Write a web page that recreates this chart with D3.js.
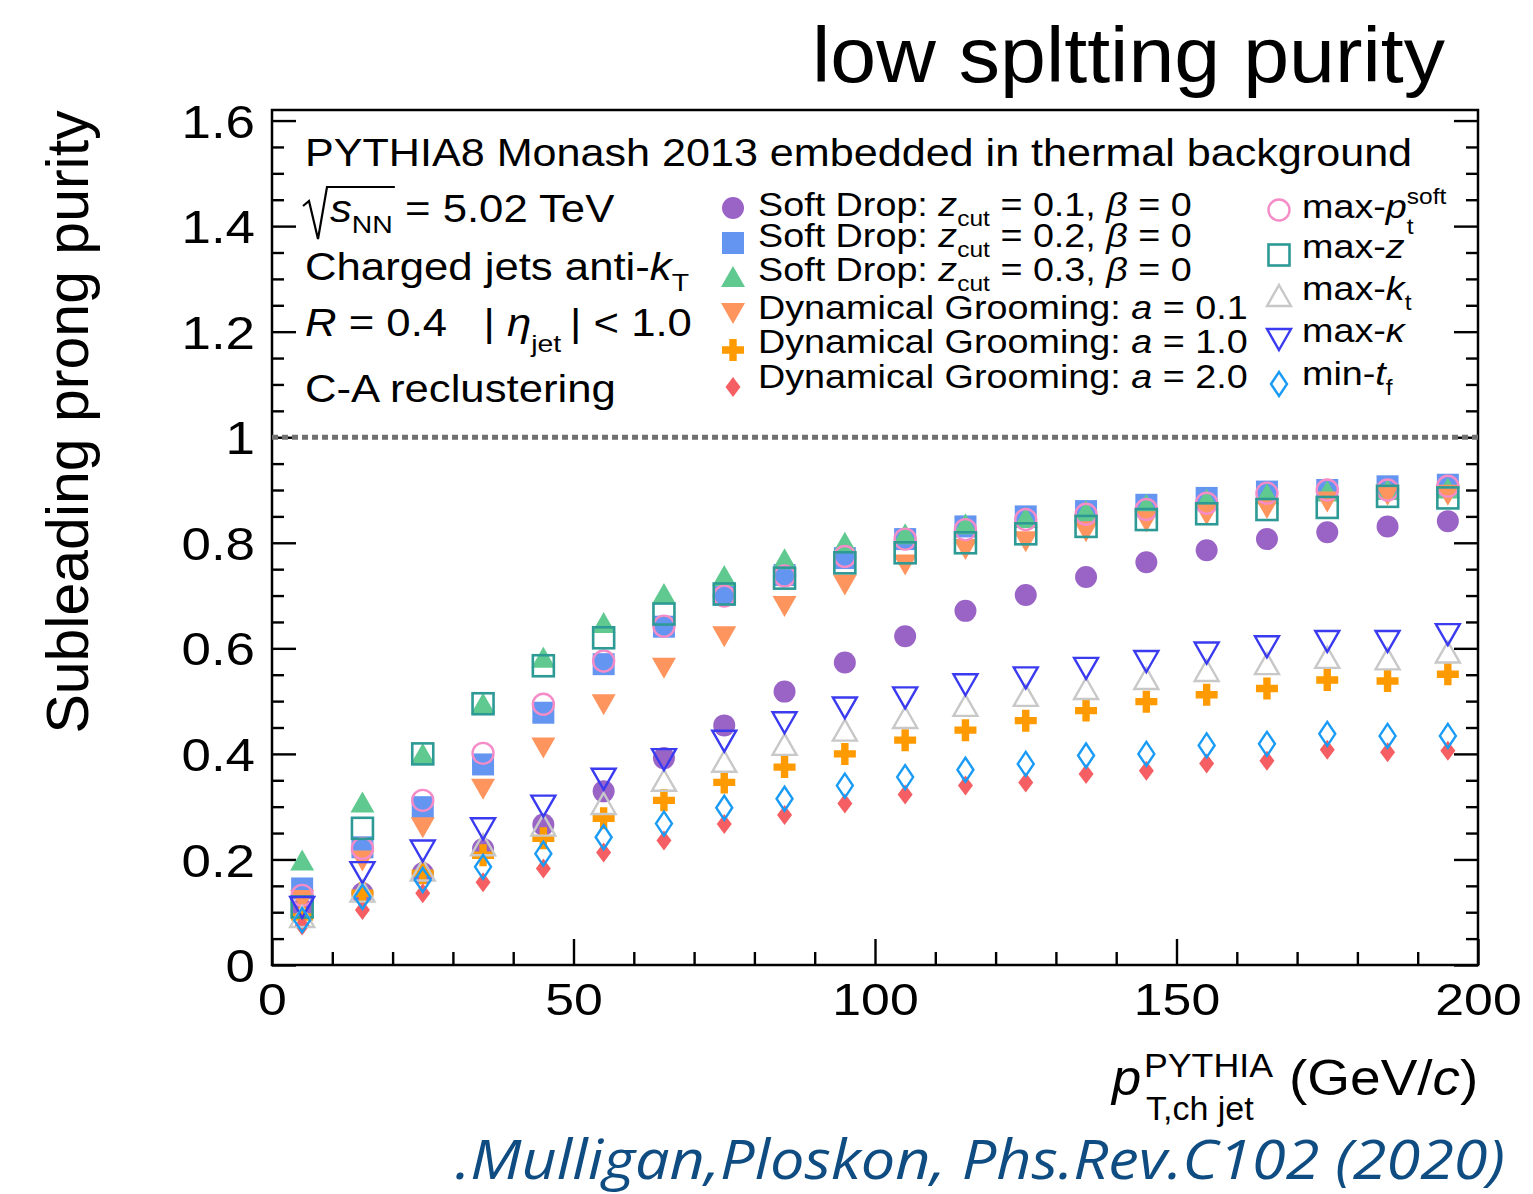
<!DOCTYPE html>
<html><head><meta charset="utf-8">
<script src="https://cdn.jsdelivr.net/npm/d3@7"></script>
<style>body{margin:0;background:#fff} svg{display:block}</style>
</head><body><svg id="c" width="1533" height="1194"></svg>
<script>
// ---------------- data ----------------
const ptBins = [5,15,25,35,45,55,65,75,85,95,105,115,125,135,145,155,165,175,185,195];
const sdZ01 = [0.105,0.136,0.174,0.220,0.266,0.329,0.392,0.454,0.518,0.573,0.623,0.671,0.701,0.735,0.763,0.786,0.807,0.820,0.831,0.841];
const sdZ02 = [0.145,0.223,0.299,0.380,0.478,0.570,0.641,0.701,0.739,0.771,0.807,0.831,0.850,0.860,0.872,0.885,0.897,0.900,0.907,0.910];
const sdZ03 = [0.198,0.308,0.400,0.495,0.582,0.648,0.703,0.737,0.769,0.800,0.816,0.835,0.847,0.860,0.872,0.882,0.892,0.897,0.900,0.903];
const dgA01 = [0.123,0.198,0.261,0.334,0.412,0.494,0.563,0.623,0.680,0.721,0.759,0.788,0.803,0.822,0.841,0.854,0.866,0.878,0.891,0.891];
const dgA10 = [0.091,0.136,0.174,0.208,0.240,0.278,0.312,0.346,0.375,0.400,0.426,0.445,0.463,0.482,0.499,0.512,0.524,0.540,0.538,0.551];
const dgA20 = [0.075,0.104,0.136,0.157,0.183,0.213,0.236,0.267,0.284,0.306,0.323,0.340,0.346,0.362,0.368,0.382,0.387,0.408,0.403,0.406];
const maxPtSoft = [0.132,0.221,0.312,0.401,0.494,0.576,0.642,0.699,0.737,0.774,0.807,0.825,0.844,0.854,0.863,0.875,0.894,0.900,0.900,0.907];
const maxZ = [0.110,0.259,0.400,0.495,0.567,0.620,0.665,0.703,0.733,0.762,0.781,0.800,0.817,0.831,0.844,0.855,0.863,0.867,0.888,0.885];
const maxKt = [0.091,0.139,0.179,0.227,0.264,0.305,0.349,0.385,0.417,0.444,0.468,0.491,0.510,0.523,0.542,0.557,0.570,0.582,0.579,0.592];
const maxKappa = [0.110,0.176,0.217,0.259,0.302,0.353,0.390,0.425,0.460,0.488,0.507,0.532,0.545,0.563,0.576,0.592,0.604,0.614,0.614,0.627];
const minTf = [0.085,0.129,0.161,0.186,0.211,0.242,0.268,0.298,0.315,0.340,0.356,0.370,0.381,0.397,0.400,0.416,0.419,0.438,0.434,0.434];

const yMajorTicks = [0,0.2,0.4,0.6,0.8,1.0,1.2,1.4,1.6];
const xMajorTicks = [0,50,100,150,200];

// ---------------- setup ----------------
const FONT = "'Liberation Sans', Arial, Helvetica, sans-serif";
const SX = 1.15;
const svg = d3.select('#c');
const x = d3.scaleLinear().domain([0,200]).range([272,1478]);
const y = d3.scaleLinear().domain([0,1.62]).range([965,110]);

function rich(parent, px, py, parts, fs, opts={}){
  const sx = opts.sx ?? SX;
  const g = parent.append('g').attr('transform',`translate(${px},${py}) scale(${sx},1)`);
  const t = g.append('text').attr('font-size',fs).attr('font-family',opts.family||FONT)
     .attr('fill',opts.fill||'#000').attr('text-anchor',opts.anchor||'start')
     .attr('xml:space','preserve').style('white-space','pre');
  let shift = 0;
  const spans=[];
  parts.forEach(p=>{
    const o = typeof p==='string'?{t:p,k:'n'}:{t:p[0],k:p[1]||'n'};
    let target=0, size=fs;
    if(o.k.includes('sub')){target=(opts.subShift??0.3)*fs; size=0.65*fs;}
    if(o.k.includes('sup')){target=-0.42*fs; size=0.65*fs;}
    const ts = t.append('tspan').text(o.t).attr('font-size',size).attr('dy',target-shift);
    if(o.k.startsWith('i')) ts.attr('font-style','italic');
    shift=target;
    spans.push(ts);
  });
  return {g,t,spans};
}

// ---------------- axes ----------------
const axG = svg.append('g');
const yMinor = d3.range(0,1.6001,0.05).filter(v=>Math.abs(v/0.2-Math.round(v/0.2))>1e-6);
const xMinor = d3.range(0,200.001,10).filter(v=>v%50!==0);

function styleAxis(g){ g.select('.domain').remove(); g.selectAll('.tick line').attr('stroke','#000').attr('stroke-width',2.4); }

axG.append('g').attr('transform',`translate(${x(0)},0)`)
  .call(d3.axisLeft(y).tickValues(yMajorTicks).tickSize(-24).tickPadding(17).tickFormat(d=>String(+d.toFixed(1))))
  .call(styleAxis)
  .call(g=>g.selectAll('.tick text').attr('font-family',FONT).attr('font-size',46).attr('fill','#000')
      .attr('x',-17/SX).attr('transform',`scale(${SX},1)`).attr('dy','0.36em'));
axG.append('g').attr('transform',`translate(${x(0)},0)`)
  .call(d3.axisLeft(y).tickValues(yMinor).tickSize(-12).tickFormat('')).call(styleAxis);
axG.append('g').attr('transform',`translate(${x(200)},0)`)
  .call(d3.axisRight(y).tickValues(yMajorTicks).tickSize(-24).tickFormat('')).call(styleAxis);
axG.append('g').attr('transform',`translate(${x(200)},0)`)
  .call(d3.axisRight(y).tickValues(yMinor).tickSize(-12).tickFormat('')).call(styleAxis);
axG.append('g').attr('transform',`translate(0,${y(0)})`)
  .call(d3.axisBottom(x).tickValues(xMajorTicks).tickSize(-26).tickPadding(18).tickFormat(d3.format('d')))
  .call(styleAxis)
  .call(g=>g.selectAll('.tick text').attr('font-family',FONT).attr('font-size',45).attr('fill','#000')
      .attr('transform',`scale(${SX},1)`));
axG.append('g').attr('transform',`translate(0,${y(0)})`)
  .call(d3.axisBottom(x).tickValues(xMinor).tickSize(-13).tickFormat('')).call(styleAxis);

// frame
svg.append('rect').attr('x',x(0)).attr('y',y(1.62)).attr('width',x(200)-x(0)).attr('height',y(0)-y(1.62))
  .attr('fill','none').attr('stroke','#000').attr('stroke-width',2.5);

// dotted line at purity = 1
svg.append('line').attr('x1',x(0)).attr('x2',x(200)).attr('y1',y(1)).attr('y2',y(1))
  .attr('stroke','#707070').attr('stroke-width',5).attr('stroke-dasharray','6,4');

// ---------------- markers ----------------
function drawShape(g, type, color){
  switch(type){
    case 'fcircle': g.append('circle').attr('r',11).attr('fill',color); break;
    case 'fsquare': g.append('rect').attr('x',-11).attr('y',-11).attr('width',22).attr('height',22).attr('fill',color); break;
    case 'ftriup': g.append('path').attr('d','M0,-11L12,10L-12,10Z').attr('fill',color); break;
    case 'ftridown': g.append('path').attr('d','M0,11L12,-10L-12,-10Z').attr('fill',color); break;
    case 'plus': g.append('path').attr('d','M-3.7,-11H3.7V-3.7H11V3.7H3.7V11H-3.7V3.7H-11V-3.7H-3.7Z').attr('fill',color); break;
    case 'fdiamond': g.append('path').attr('d','M0,-10L7.5,0L0,10L-7.5,0Z').attr('fill',color); break;
    case 'ocircle': g.append('circle').attr('r',10.5).attr('fill','none').attr('stroke',color).attr('stroke-width',2.4); break;
    case 'osquare': g.append('rect').attr('x',-10.5).attr('y',-10.5).attr('width',21).attr('height',21).attr('fill','none').attr('stroke',color).attr('stroke-width',2.6); break;
    case 'otriup': g.append('path').attr('d','M0,-11L12,10L-12,10Z').attr('fill','none').attr('stroke',color).attr('stroke-width',2.4); break;
    case 'otridown': g.append('path').attr('d','M0,11L12,-10L-12,-10Z').attr('fill','none').attr('stroke',color).attr('stroke-width',2.4); break;
    case 'odiamond': g.append('path').attr('d','M0,-12L8,0L0,12L-8,0Z').attr('fill','none').attr('stroke',color).attr('stroke-width',2.4); break;
  }
}

const series = [
  {vals:sdZ01, type:'fcircle', color:'#9a64c6'},
  {vals:sdZ02, type:'fsquare', color:'#6495f0'},
  {vals:sdZ03, type:'ftriup', color:'#5fc98f'},
  {vals:dgA01, type:'ftridown', color:'#ff955e'},
  {vals:dgA10, type:'plus', color:'#ff9a00'},
  {vals:dgA20, type:'fdiamond', color:'#f55f63'},
  {vals:maxPtSoft, type:'ocircle', color:'#f58cc8'},
  {vals:maxZ, type:'osquare', color:'#2e9a96'},
  {vals:maxKt, type:'otriup', color:'#c8c8c8'},
  {vals:maxKappa, type:'otridown', color:'#3a3af0'},
  {vals:minTf, type:'odiamond', color:'#1a9bf5'}
];

const dataG = svg.append('g');
series.forEach(s=>{
  dataG.append('g').selectAll('g').data(s.vals.map((v,i)=>({pt:ptBins[i],v})))
    .join('g').attr('transform',d=>`translate(${x(d.pt)},${y(d.v)})`)
    .each(function(){ drawShape(d3.select(this), s.type, s.color); });
});

// ---------------- texts ----------------
// title
svg.append('text').attr('x',1445).attr('y',82).attr('text-anchor','end').attr('font-family',FONT)
  .attr('font-size',78).attr('fill','#000').attr('textLength',633).attr('lengthAdjust','spacingAndGlyphs')
  .text('low spltting purity');

// left info block
const HF = 38;
rich(svg,305,166,['PYTHIA8 Monash 2013 embedded in thermal background'],HF,{sx:1.135});
const sq = rich(svg,330,222,[['s','i'],['NN','sub'],' = 5.02 TeV'],HF);
{
  const w = (sq.spans[0].node().getComputedTextLength()+sq.spans[1].node().getComputedTextLength())*SX;
  svg.append('path').attr('d',`M303,206L309,201L318,239L327,187H${330+w+2}`)
    .attr('fill','none').attr('stroke','#000').attr('stroke-width',2.2);
}
rich(svg,305,280,['Charged jets anti-',['k','i'],['T','sub']],HF);
rich(svg,305,336,[['R','i'],' = 0.4\u00a0\u00a0 | ',['\u03b7','i'],['jet','sub'],'\u2009| < 1.0'],HF,{subShift:0.42});
rich(svg,305,402,['C-A reclustering'],HF);

// middle legend
const LF = 34, LSX = 1.11;
const midLeg = [
  {parts:['Soft Drop: ',['z','i'],['cut','sub'],' = 0.1, ',['\u03b2','i'],' = 0'], ty:216, my:208},
  {parts:['Soft Drop: ',['z','i'],['cut','sub'],' = 0.2, ',['\u03b2','i'],' = 0'], ty:247, my:243},
  {parts:['Soft Drop: ',['z','i'],['cut','sub'],' = 0.3, ',['\u03b2','i'],' = 0'], ty:281, my:277},
  {parts:['Dynamical Grooming: ',['a','i'],' = 0.1'], ty:319, my:313},
  {parts:['Dynamical Grooming: ',['a','i'],' = 1.0'], ty:353, my:350},
  {parts:['Dynamical Grooming: ',['a','i'],' = 2.0'], ty:388, my:387}
];
midLeg.forEach((r,i)=>{
  rich(svg,758,r.ty,r.parts,LF,{sx:LSX});
  const g = svg.append('g').attr('transform',`translate(733,${r.my})`);
  drawShape(g, series[i].type, series[i].color);
});

// right legend
const rightLeg = [
  {ty:218, my:210},
  {parts:['max-',['z','i']], ty:258, my:255},
  {parts:['max-',['k','i'],['t','sub']], ty:300, my:296},
  {parts:['max-',['\u03ba','i']], ty:342, my:339},
  {parts:['min-',['t','i'],['f','sub']], ty:385, my:384}
];
{
  const r = rich(svg,1302,218,['max-',['p','i'],['soft','sup'],['t','sub']],LF,{sx:LSX});
  const len = r.spans[2].node().getComputedTextLength();
  r.spans[3].attr('dx',-len).attr('dy',0.3*LF+0.42*LF+6);
}
rightLeg.forEach((r,i)=>{
  if(r.parts) rich(svg,1302,r.ty,r.parts,LF,{sx:LSX});
  const g = svg.append('g').attr('transform',`translate(1279,${r.my})`);
  drawShape(g, series[6+i].type, series[6+i].color);
});

// y-axis title
svg.append('text').attr('transform','translate(88,422) rotate(-90)').attr('text-anchor','middle')
  .attr('font-family',FONT).attr('font-size',59).attr('fill','#000').text('Subleading prong purity');

// x-axis title
rich(svg,1112,1095,[['p','i']],50,{sx:1.05});
rich(svg,1144,1077,['PYTHIA'],34,{sx:1.05});
rich(svg,1146,1120,['T,ch jet'],34,{sx:1.0});
rich(svg,1289,1095,['(GeV/',['c','i'],')'],50,{sx:1.1});

// citation
svg.append('text').attr('x',455).attr('y',1179).attr('font-family',"'Open Sans', Lato, sans-serif")
  .attr('font-style','italic').attr('font-size',54).attr('fill','#0f4c81')
  .attr('textLength',1050).attr('lengthAdjust','spacingAndGlyphs')
  .text('.Mulligan,Ploskon, Phs.Rev.C102 (2020)');
</script></body></html>
